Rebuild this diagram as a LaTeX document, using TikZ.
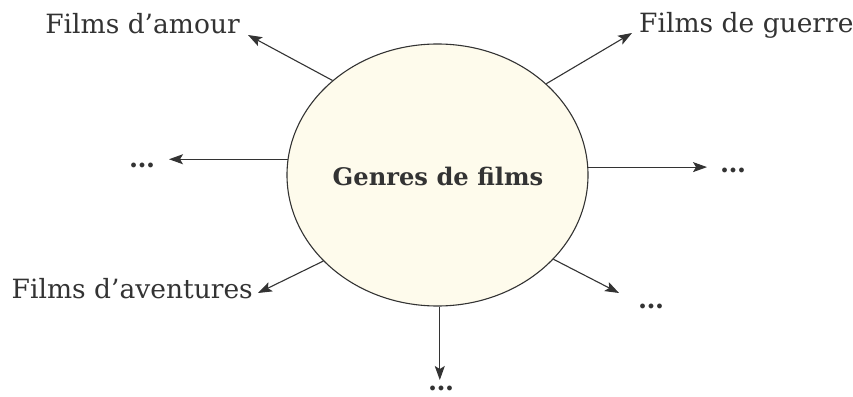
\documentclass[tikz,border=0pt]{standalone}
\usepackage{fontspec}
\setmainfont{DejaVu Serif}
\usetikzlibrary{arrows.meta,shapes.geometric}
\definecolor{ink}{RGB}{51,51,51}
\definecolor{cream}{RGB}{254,251,236}
\begin{document}
\begin{tikzpicture}[x=1pt,y=-1pt,
  lbl/.style={inner sep=0pt,text=ink,font=\fontsize{26.5}{30}\selectfont},
  dots/.style={inner sep=0pt,text=ink,anchor=base,text depth=0pt,text height=6pt,font=\fontsize{26}{30}\selectfont\bfseries},
  conn/.style={draw=ink,line width=1.1pt,-{Stealth[length=14pt,width=10pt,inset=3pt]}}]
\useasboundingbox (0,0) rectangle (853,396);
\node[ellipse,draw=ink,line width=1.1pt,fill=cream,minimum width=301pt,minimum height=262pt,inner sep=0pt] (g) at (437.5,175) {};
\node[lbl,font=\fontsize{24.2}{28}\selectfont\bfseries,anchor=base] (gt) at (438,185) {Genres de films};
\node[lbl,anchor=base east] (amour) at (240,34) {Films d’amour};
\node[lbl,anchor=base west] (guerre) at (639,33) {Films de guerre};
\node[lbl,anchor=base east] (aventures) at (253,298) {Films d’aventures};
\node[dots] (dl) at (142,167) {…};
\node[dots] (dr) at (733,172) {…};
\node[dots] (dlr) at (651,308) {…};
\node[dots] (db) at (441,390) {…};
\coordinate (tul) at (248,35);
\coordinate (tur) at (632,33);
\coordinate (tl) at (169,160);
\coordinate (tr) at (707,165);
\coordinate (tll) at (258,293);
\coordinate (tlr) at (619,293);
\coordinate (tb) at (440,380);
\draw[conn] (g.138.7) -- (tul);
\draw[conn] (g.40.2) -- (tur);
\draw[conn] (g.174.3) -- (g.174.3 -| tl);
\draw[conn] (g.3.8) -- (g.3.8 -| tr);
\draw[conn] (g.217) -- (tll);
\draw[conn] (g.324.1) -- (tlr);
\draw[conn] (g.271.3) -- (g.271.3 |- tb);
\end{tikzpicture}
\end{document}
